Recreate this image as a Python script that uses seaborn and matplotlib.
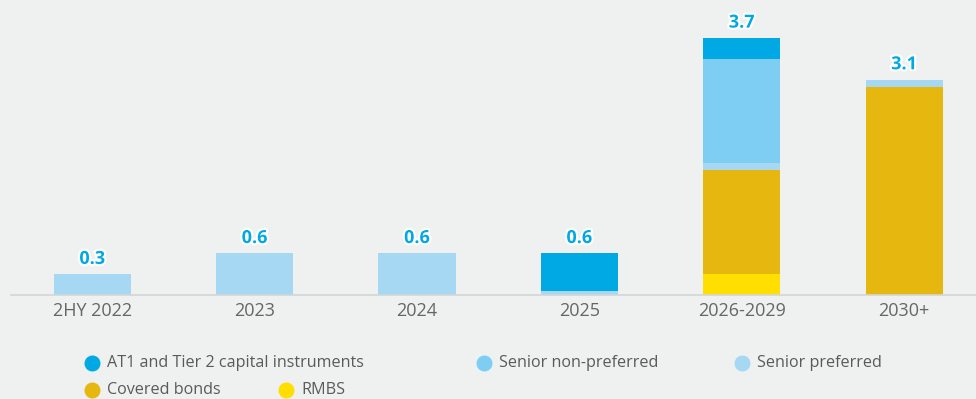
import matplotlib
matplotlib.use("Agg")
import matplotlib.pyplot as plt
import matplotlib.patheffects as pe
from matplotlib.lines import Line2D
import numpy as np
import pandas as pd
import seaborn as sns

categories = ["2HY 2022", "2023", "2024", "2025", "2026-2029", "2030+"]
rmbs = [0, 0, 0, 0, 0.3, 0]
covered = [0, 0, 0, 0, 1.5, 3.0]
senior_pref = [0.3, 0.6, 0.6, 0.06, 0.1, 0.1]
senior_nonpref = [0, 0, 0, 0, 1.5, 0]
at1 = [0, 0, 0, 0.54, 0.3, 0]
total_labels = ["0.3", "0.6", "0.6", "0.6", "3.7", "3.1"]

series_names = ["RMBS", "Covered bonds", "Senior preferred", "Senior non-preferred",
                "AT1 and Tier 2 capital instruments"]
series_vals = [rmbs, covered, senior_pref, senior_nonpref, at1]
colors = {
    "AT1 and Tier 2 capital instruments": "#00a9e3",
    "Senior non-preferred": "#7ecef4",
    "Senior preferred": "#a7d8f3",
    "Covered bonds": "#e6b70f",
    "RMBS": "#ffde00",
}

bg = "#eff1f0"
sns.set_theme(style="white")
plt.rcParams["font.family"] = ["Open Sans", "DejaVu Sans"]

fig = plt.figure(figsize=(9.76, 3.99), dpi=100, facecolor=bg)
ax = fig.add_axes([11 / 976, (399 - 295) / 399, 965 / 976, 295 / 399])
ax.set_facecolor(bg)

cum = np.cumsum(np.array(series_vals), axis=0)
# draw from top of stack downward so each layer overlays the one above
for i in range(len(series_names) - 1, -1, -1):
    df = pd.DataFrame({"cat": categories, "val": cum[i]})
    sns.barplot(data=df, x="cat", y="val", order=categories, color=colors[series_names[i]],
                width=0.475, saturation=1, ax=ax, edgecolor="none", linewidth=0)

totals = cum[-1]
for xi, (t, lab) in enumerate(zip(totals, total_labels)):
    ax.annotate(lab, (xi, t), xytext=(0, 4.5), textcoords="offset points",
                ha="center", va="bottom", fontsize=13, fontweight="bold", color="#00a9e3",
                path_effects=[pe.withStroke(linewidth=3, foreground="white")])

ax.set_xlim(-0.5, 5.443)
ax.set_ylim(0, 295 / 69.5)
ax.set_xlabel("")
ax.set_ylabel("")
ax.set_yticks([])
for s in ["top", "right", "left"]:
    ax.spines[s].set_visible(False)
ax.spines["bottom"].set_color("#d3d6d6")
ax.spines["bottom"].set_linewidth(1.2)
ax.tick_params(axis="x", length=0, pad=5, labelsize=13, labelcolor="#666666")

# legend (wrapping layout)
legend_items = [
    ("AT1 and Tier 2 capital instruments", 92, 363),
    ("Senior non-preferred", 484, 363),
    ("Senior preferred", 742, 363),
    ("Covered bonds", 92, 390),
    ("RMBS", 286, 390),
]
for name, px, py in legend_items:
    fx, fy = px / 976, 1 - py / 399
    fig.add_artist(Line2D([fx], [fy], marker="o", markersize=10.5, color=colors[name],
                          linestyle="none", transform=fig.transFigure))
    fig.text(fx + 15 / 976, fy, name, ha="left", va="center", fontsize=11.6, color="#5a5a5a")

fig.savefig("out.png", dpi=100, facecolor=bg)
